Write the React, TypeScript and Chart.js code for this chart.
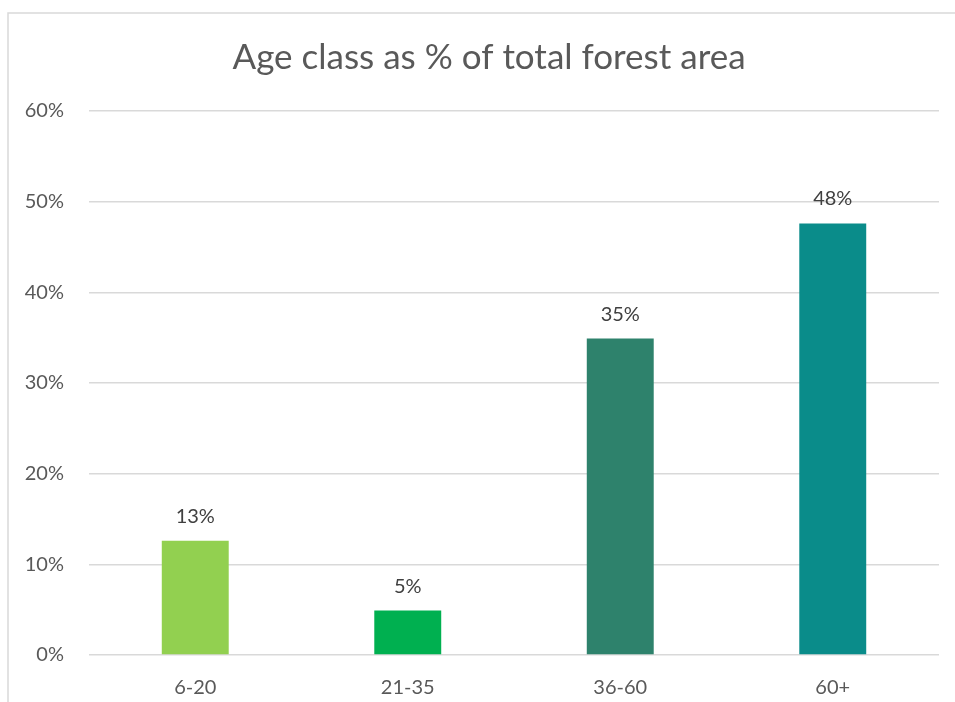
import React, { useEffect, useRef } from "react";
import { Chart, registerables } from "chart.js";

Chart.register(...registerables);

const TITLE = "Age class as % of total forest area";
const categories = ["6-20", "21-35", "36-60", "60+"];
const shares = [12.6, 4.9, 34.9, 47.6];
const barColors = ["#92D050", "#00B050", "#2E826C", "#0A8C8A"];
const yTicks = [0, 10, 20, 30, 40, 50, 60];

const FONT = "Lato, 'Open Sans', sans-serif";

const decorPlugin = {
  id: "decor",
  beforeDraw(chart: any) {
    const { ctx } = chart;
    ctx.save();
    ctx.fillStyle = "#ffffff";
    ctx.fillRect(0, 0, chart.width, chart.height);
    ctx.strokeStyle = "#D9D9D9";
    ctx.lineWidth = 1.5;
    ctx.strokeRect(8, 13, 1000, 1000);
    ctx.fillStyle = "#595959";
    ctx.font = `35px ${FONT}`;
    ctx.textAlign = "center";
    ctx.textBaseline = "alphabetic";
    ctx.fillText(TITLE, 489, 69);
    ctx.restore();
  },
  afterDatasetsDraw(chart: any) {
    const { ctx } = chart;
    const meta = chart.getDatasetMeta(0);
    ctx.save();
    ctx.fillStyle = "#404040";
    ctx.font = `20px ${FONT}`;
    ctx.textAlign = "center";
    ctx.textBaseline = "alphabetic";
    meta.data.forEach((bar: any, i: number) => {
      ctx.fillText(Math.round(shares[i]) + "%", bar.x, bar.y - 18);
    });
    ctx.restore();
  },
};

export default function App() {
  const ref = useRef<HTMLCanvasElement | null>(null);
  useEffect(() => {
    if (!ref.current) return;
    const chart = new Chart(ref.current, {
      type: "bar",
      data: {
        labels: categories,
        datasets: [
          {
            data: shares,
            backgroundColor: barColors,
            categoryPercentage: 1,
            barPercentage: 0.315,
          },
        ],
      },
      options: {
        animation: false,
        responsive: false,
        maintainAspectRatio: false,
        layout: { padding: { left: 0, right: 16, top: 111, bottom: 0 } },
        plugins: {
          legend: { display: false },
          title: { display: false },
          tooltip: { enabled: false },
        },
        scales: {
          x: {
            grid: { display: false, drawTicks: false },
            border: { display: false },
            ticks: {
              color: "#595959",
              font: { family: FONT, size: 20 },
              padding: 21,
            },
            afterFit: (s: any) => {
              s.height = 47;
            },
          },
          y: {
            min: 0,
            max: 60,
            afterBuildTicks: (s: any) => {
              s.ticks = yTicks.map((v) => ({ value: v }));
            },
            grid: { color: "#D9D9D9", lineWidth: 1.5, drawTicks: false },
            border: { display: false },
            ticks: {
              color: "#595959",
              font: { family: FONT, size: 20 },
              padding: 25,
              callback: (v: any) => v + "%",
            },
            afterFit: (s: any) => {
              s.width = 89;
            },
          },
        },
      },
      plugins: [decorPlugin],
    });
    return () => chart.destroy();
  }, []);
  return (
    <div style={{ position: "fixed", left: 0, top: 0, width: 955, height: 702 }}>
      <canvas ref={ref} width={955} height={702} style={{ display: "block" }} />
    </div>
  );
}
